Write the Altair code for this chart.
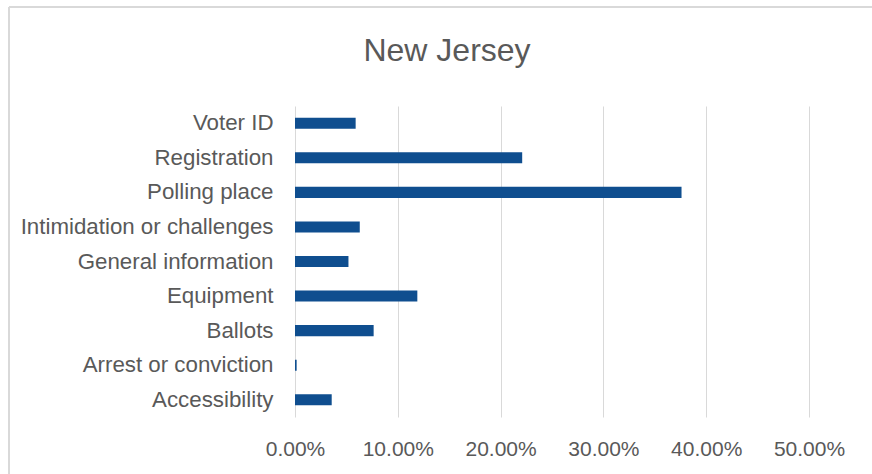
import altair as alt
import pandas as pd

categories = [
    "Voter ID",
    "Registration",
    "Polling place",
    "Intimidation or challenges",
    "General information",
    "Equipment",
    "Ballots",
    "Arrest or conviction",
    "Accessibility",
]
shares = [0.059, 0.221, 0.376, 0.063, 0.052, 0.119, 0.0765, 0.0016, 0.0357]
x_ticks = [0.0, 0.1, 0.2, 0.3, 0.4, 0.5]

df = pd.DataFrame({"category": categories, "share": shares})

TEXT = "#595959"
GRID = "#D9D9D9"
BAR = "#0F4E8F"
FONT = "Liberation Sans"

bars = alt.Chart(df).mark_bar(color=BAR).encode(
    x=alt.X(
        "share:Q",
        scale=alt.Scale(domain=[0, 0.5], nice=False),
        axis=alt.Axis(
            values=x_ticks,
            format=".2%",
            title=None,
            grid=True,
            gridColor=GRID,
            gridWidth=1,
            domain=False,
            ticks=False,
            labelFont=FONT,
            labelFontSize=21,
            labelColor=TEXT,
            labelPadding=21,
            labelOverlap=False,
            labelFlush=False,
        ),
    ),
    y=alt.Y(
        "category:N",
        sort=categories,
        scale=alt.Scale(paddingInner=0.68, paddingOuter=0.34),
        axis=alt.Axis(
            title=None,
            domain=False,
            ticks=False,
            grid=False,
            labelFont=FONT,
            labelFontSize=22.3,
            labelColor=TEXT,
            labelPadding=22,
            labelLimit=400,
        ),
    ),
)

frame_df = pd.DataFrame({"k": [0]})
top_border = alt.Chart(frame_df).mark_rule(color=GRID, strokeWidth=2).encode(
    x=alt.value(-286), x2=alt.value(600), y=alt.value(-99)
)
left_border = alt.Chart(frame_df).mark_rule(color=GRID, strokeWidth=2).encode(
    x=alt.value(-286), y=alt.value(-99), y2=alt.value(400)
)

chart = (
    alt.layer(top_border, left_border, bars)
    .properties(
        width=514,
        height=311,
        background="white",
        title=alt.TitleParams(
            "New Jersey",
            font=FONT,
            fontSize=32,
            fontWeight="normal",
            color=TEXT,
            anchor="middle",
            baseline="alphabetic",
            offset=-87,
            dx=-105,
        ),
        autosize=alt.AutoSizeParams(type="none"),
        padding={"left": 295, "top": 106, "right": 63, "bottom": 57},
    )
    .configure_view(strokeWidth=0, stroke="transparent")
)

chart.save("out.html", embed_options={"renderer": "svg", "actions": False})
